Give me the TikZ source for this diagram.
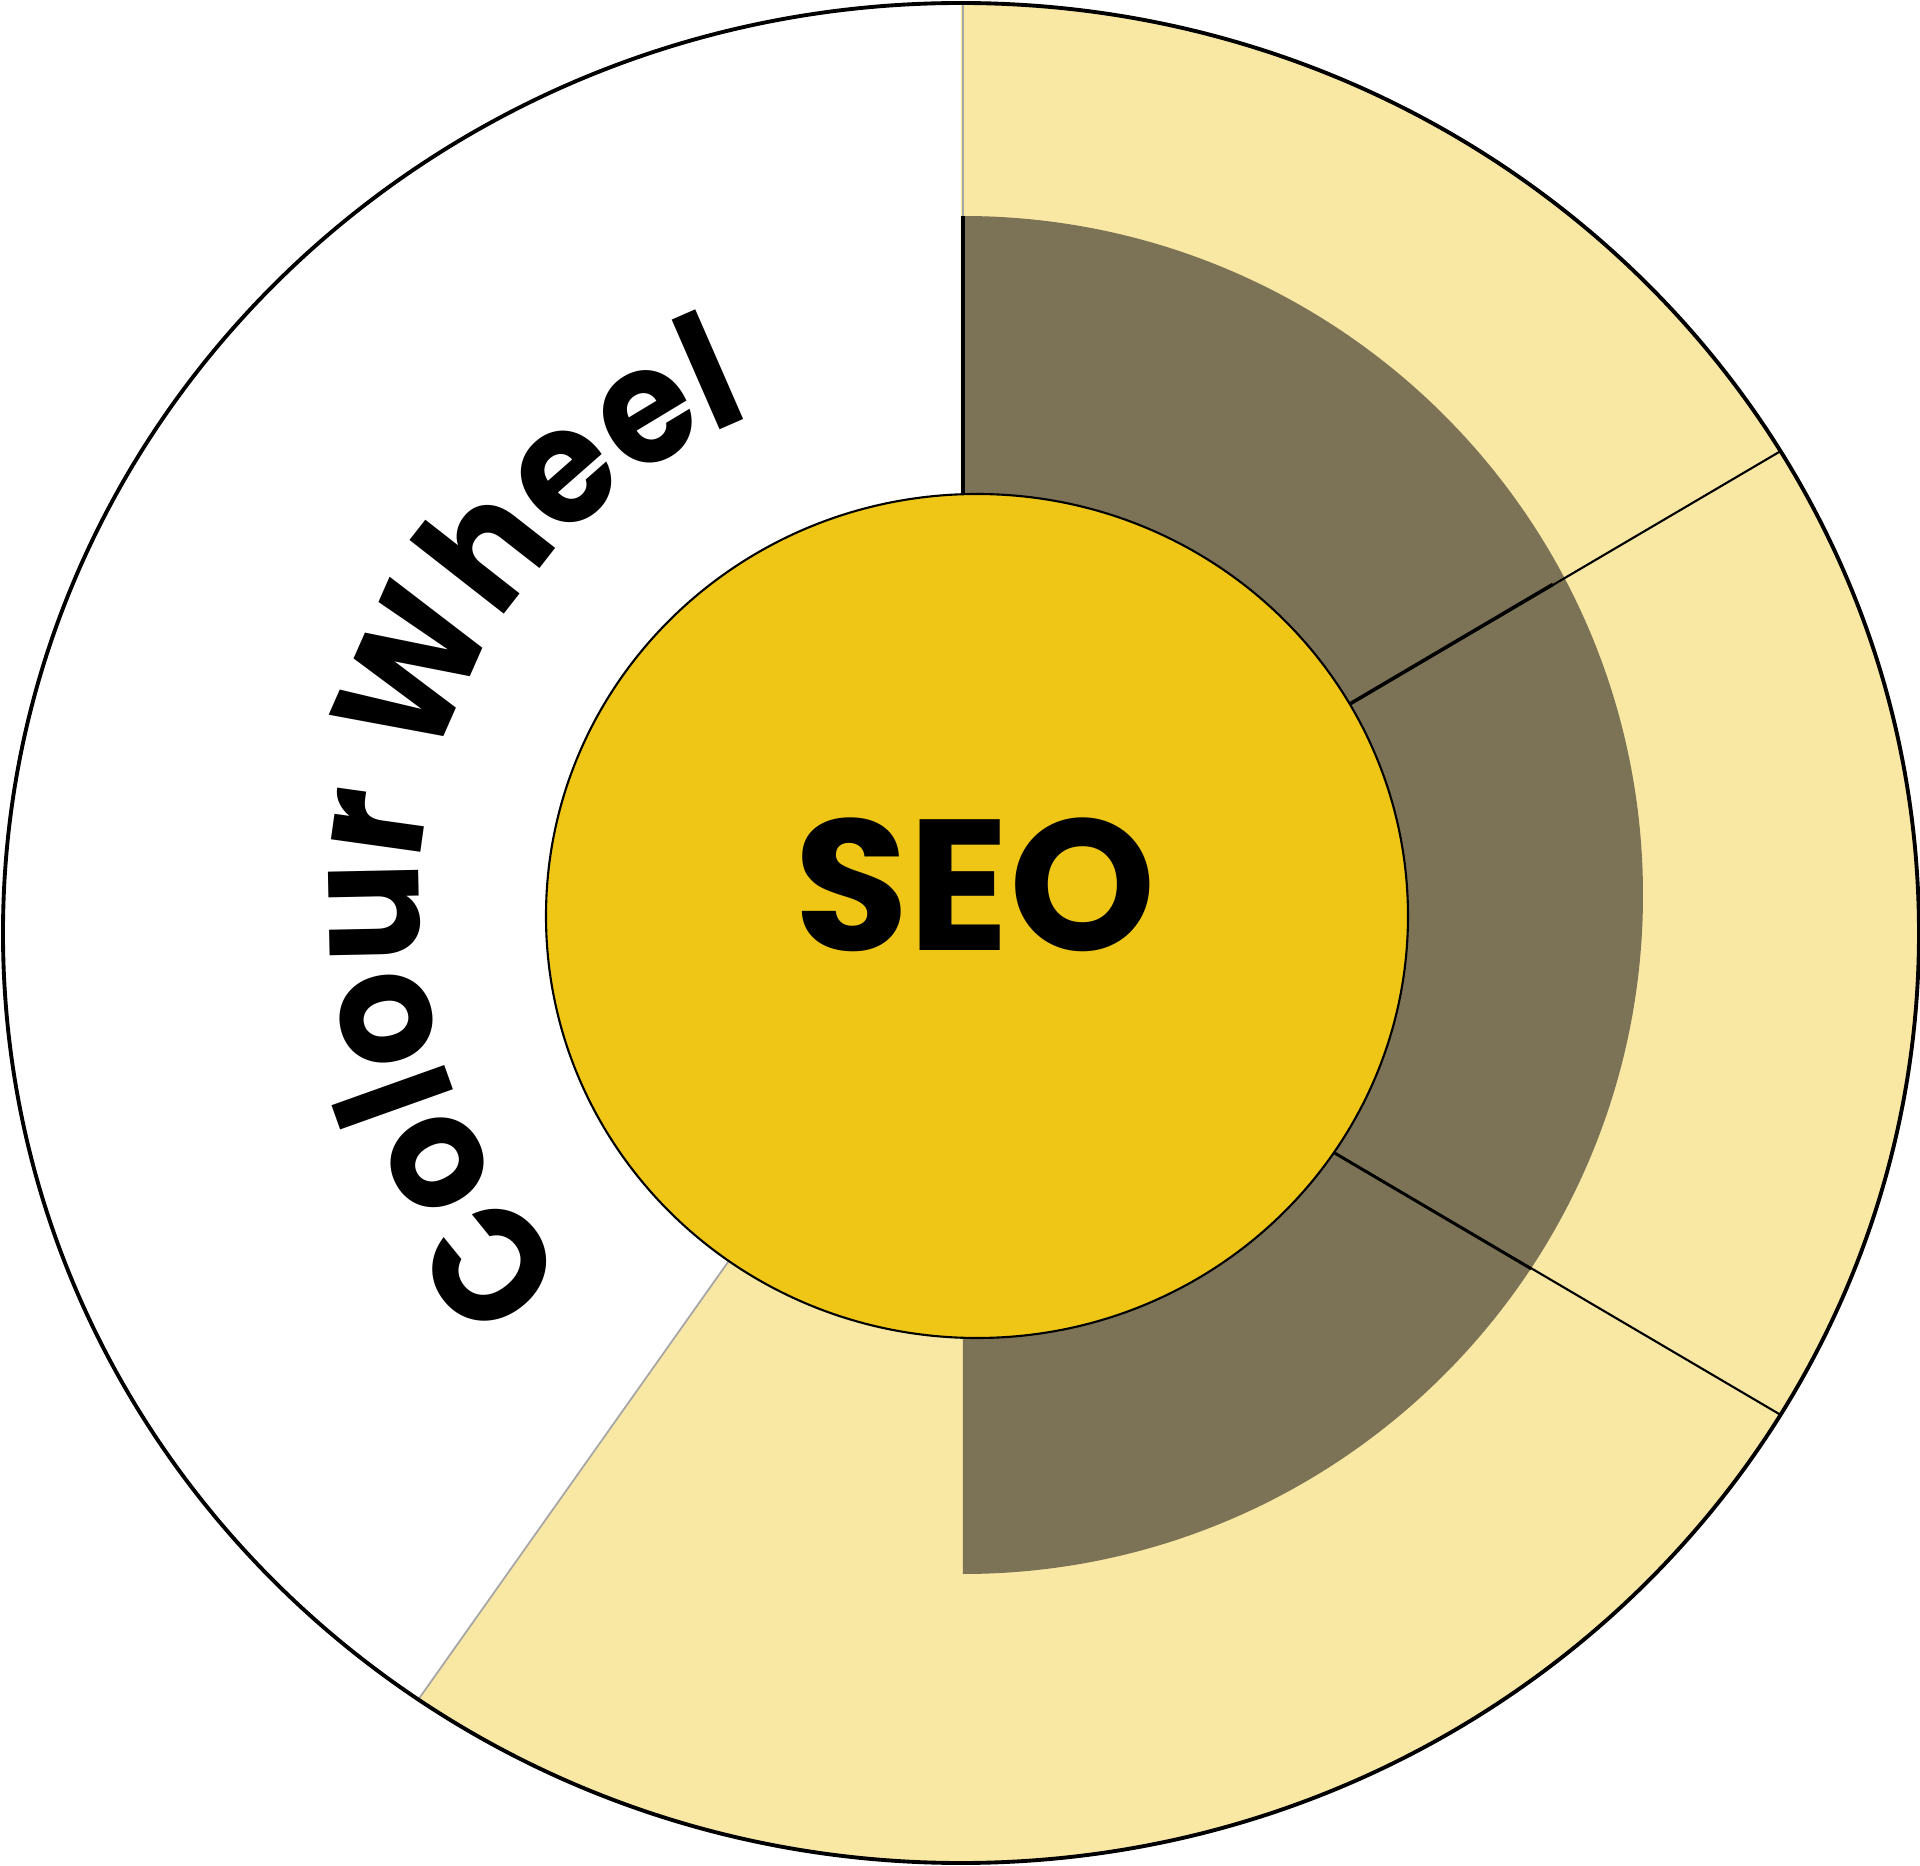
\documentclass[tikz,border=0pt]{standalone}
\usepackage{fontspec}
\setmainfont{Poppins}
\newfontfamily\wheelfont{Poppins}[FakeStretch=0.93]
\usetikzlibrary{decorations.text}

\definecolor{wheelpale}{HTML}{F9E7A4}
\definecolor{wheeldark}{HTML}{7C7256}
\definecolor{wheelgold}{HTML}{EFC616}

\begin{document}
\begin{tikzpicture}[x=0.01cm, y=0.01cm,
    rim/.style={draw=black, line width=1.1pt},
    divider/.style={black, line width=0.6pt},
    faint/.style={black!35, line width=0.5pt}]
    \useasboundingbox (-961,-933) rectangle (959,933);

    % points
    \coordinate (centre) at (0,0);
    \coordinate (top rim) at (2,930);
    \coordinate (band top) at (2,717);
    \coordinate (band foot) at (2,0);
    \coordinate (upper rim) at (31.2:958 and 930);
    \coordinate (lower rim) at (-31.2:958 and 930);
    \coordinate (left rim) at (235.5:958 and 930);
    \coordinate (upper band) at (30.5:687);
    \coordinate (lower band) at (-30.5:662);

    % outer ring
    \fill[white] (centre) ellipse [x radius=958, y radius=930];
    \fill[wheelpale] (centre) -- (left rim)
      arc[start angle=235.5, end angle=450, x radius=958, y radius=930] -- cycle;

    % dark band
    \fill[wheeldark] (2,-641) arc[start angle=-90, end angle=90,
      x radius=680, y radius=679] -- cycle;

    % dividers
    \draw[faint] (top rim) -- (band top);
    \draw[divider, line width=1pt] (band top) -- (band foot);
    \draw[faint] (left rim) -- (centre);
    \draw[divider] (upper rim) -- (centre);
    \draw[divider] (lower rim) -- (centre);
    \draw[divider, line width=1pt] (upper band) -- (centre);
    \draw[divider, line width=0.8pt] (lower band) -- (centre);

    % hub
    \draw[fill=wheelgold, line width=0.6pt] (16,17) ellipse [x radius=431, y radius=422];
    \node[font=\bfseries\fontsize{53}{60}\selectfont] (seo) at (14,48) {SEO};

    % rim
    \draw[rim] (centre) ellipse [x radius=958, y radius=930];

    % curved title
    \path[decorate, decoration={text along path,
      text={|\wheelfont\bfseries\fontsize{46}{56}\selectfont|Colour Wheel},
      text align=center}]
      (-21,31) ++(238.2:521) arc[start angle=238.2, end angle=98.2, radius=521];
\end{tikzpicture}
\end{document}
